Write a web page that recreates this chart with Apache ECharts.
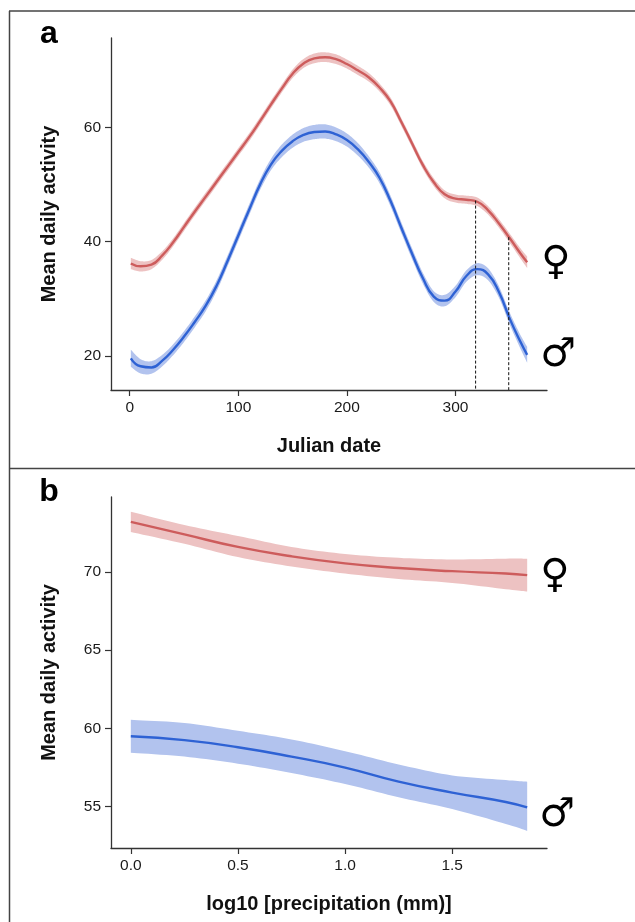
<!DOCTYPE html>
<html><head><meta charset="utf-8">
<script src="https://cdn.jsdelivr.net/npm/echarts@6/dist/echarts.min.js"></script>
<style>html,body{margin:0;padding:0;background:#fff}#c{width:635px;height:922px}</style>
</head><body><div id="c"></div>
<script>
// ---- Panel a: Julian date ----
const days      = [1,10,20,30,40,50,60,70,80,90,100,110,120,130,140,150,160,170,180,190,200,210,220,230,240,250,260,270,280,290,300,310,320,330,340,350,360,366];
const femaleA   = [36.2,35.7,36.0,37.6,39.9,42.6,45.3,47.9,50.5,53.1,55.7,58.3,61.1,64.0,66.8,69.4,71.2,72.1,72.3,71.95,71.1,70.0,68.8,67.0,64.6,61.0,57.2,53.4,50.4,48.3,47.55,47.35,47.0,45.5,43.2,40.6,37.9,36.4];
const femaleSeA = [1.0,0.9,0.8,0.75,0.7,0.7,0.7,0.7,0.7,0.7,0.7,0.7,0.7,0.7,0.7,0.75,0.8,0.85,0.85,0.85,0.8,0.8,0.75,0.7,0.7,0.7,0.7,0.7,0.7,0.7,0.7,0.72,0.75,0.75,0.75,0.8,0.9,1.0];
const maleA     = [19.6,18.2,18.0,19.2,21.1,23.4,26.0,28.8,32.3,36.6,41.1,45.6,50.0,53.5,55.9,57.6,58.7,59.2,59.3,58.8,57.8,56.2,54.0,51.2,47.2,42.5,37.9,33.6,30.4,29.7,31.3,34.0,35.2,34.3,31.2,26.5,22.4,20.2];
const maleSeA   = [1.5,1.25,1.1,1.0,0.95,0.95,0.95,0.95,0.95,0.95,0.95,0.95,0.95,1.0,1.1,1.15,1.2,1.25,1.25,1.2,1.15,1.1,1.0,0.95,0.95,0.95,0.95,0.95,0.95,1.0,1.0,1.0,1.05,1.05,1.0,1.05,1.2,1.4];
const dashDays  = [318.5, 349];
const dashTops  = [47.2, 40.8];
const xTicksA   = [0, 100, 200, 300];
const yTicksA   = [20, 40, 60];

// ---- Panel b: precipitation ----
const precip       = [0,0.25,0.5,0.75,1.0,1.25,1.5,1.75,1.85];
const femaleB      = [73.2,72.4,71.6,71.0,70.55,70.25,70.05,69.9,69.8];
const femaleUpperB = [73.85,73.0,72.3,71.6,71.15,70.9,70.8,70.85,70.85];
const femaleLowerB = [72.55,71.8,70.95,70.35,69.9,69.55,69.3,68.9,68.75];
const maleB        = [59.5,59.25,58.8,58.2,57.5,56.6,55.9,55.3,54.95];
const maleUpperB   = [60.55,60.35,59.85,59.3,58.55,57.7,57.0,56.7,56.6];
const maleLowerB   = [58.45,58.2,57.75,57.15,56.45,55.6,54.85,53.9,53.45];
const xTicksB      = [0, 0.5, 1.0, 1.5];
const yTicksB      = [55, 60, 65, 70];

const FONT = '"Liberation Sans", Arial, Helvetica, sans-serif';
const RED = '#CD5C5C', RED_BAND = '#EDC2C2';
const BLUE = '#2E62D4', BLUE_BAND = '#B2C3EE';
const AXIS = '#333';

const yMinA = 14.05, yMaxA = 75.66;
const yMinB = 52.36, yMaxB = 74.79;

function pairs(xs, ys) { return xs.map((x, i) => [x, ys[i]]); }
// smooth pixel path through the projected points (Catmull-Rom rendered as cubic Bezier)
function smoothPixels(p, steps) {
  const out = [];
  for (let i = 0; i < p.length - 1; i++) {
    const p0 = p[Math.max(i - 1, 0)], p1 = p[i], p2 = p[i + 1], p3 = p[Math.min(i + 2, p.length - 1)];
    const c1 = [p1[0] + (p2[0] - p0[0]) / 6, p1[1] + (p2[1] - p0[1]) / 6];
    const c2 = [p2[0] - (p3[0] - p1[0]) / 6, p2[1] - (p3[1] - p1[1]) / 6];
    for (let s = 0; s < steps; s++) {
      const t = s / steps, u = 1 - t;
      const a = u * u * u, b = 3 * u * u * t, c = 3 * u * t * t, d = t * t * t;
      out.push([a * p1[0] + b * c1[0] + c * c2[0] + d * p2[0], a * p1[1] + b * c1[1] + c * c2[1] + d * p2[1]]);
    }
  }
  out.push(p[p.length - 1]);
  return out;
}
function bandSeries(idx, xs, lo, hi, color) {
  return { type: 'custom', xAxisIndex: idx, yAxisIndex: idx, silent: true, z: 1,
    data: [[xs[0], lo[0]]],
    renderItem: (params, api) => {
      const top = smoothPixels(xs.map((x, i) => api.coord([x, hi[i]])), 10);
      const bot = smoothPixels(xs.map((x, i) => api.coord([x, lo[i]])), 10).reverse();
      return { type: 'polygon', shape: { points: top.concat(bot) }, style: { fill: color }, silent: true };
    } };
}
function lineSeries(idx, data, color, sym, offset) {
  return { type: 'line', xAxisIndex: idx, yAxisIndex: idx, data, smooth: true, symbol: 'none', silent: true,
    lineStyle: { width: 2.4, color }, z: 3,
    endLabel: { show: true, formatter: sym, fontSize: 40, fontFamily: '"DejaVu Sans"', color: '#000', offset } };
}
const tickStyle = { color: AXIS, width: 1.2 };
function xAxisCfg(idx, min, max, ticks, name, fmt) {
  return { gridIndex: idx, type: 'value', min, max, z: 10,
    axisLine: { show: true, onZero: false, lineStyle: { color: AXIS, width: 1.3 } },
    axisTick: { show: true, customValues: ticks, length: 6, lineStyle: tickStyle },
    axisLabel: { customValues: ticks, color: '#1a1a1a', fontSize: 15.5, fontFamily: FONT, margin: 10, formatter: fmt },
    splitLine: { show: false },
    name, nameLocation: 'middle', nameGap: 46,
    nameTextStyle: { fontWeight: 'bold', fontSize: 20, color: '#111', fontFamily: FONT } };
}
function yAxisCfg(idx, min, max, ticks, name) {
  return { gridIndex: idx, type: 'value', min, max, z: 10,
    axisLine: { show: true, onZero: false, lineStyle: { color: AXIS, width: 1.3 } },
    axisTick: { show: true, customValues: ticks, length: 6, lineStyle: tickStyle },
    axisLabel: { customValues: ticks, color: '#1a1a1a', fontSize: 15.5, fontFamily: FONT, margin: 10 },
    splitLine: { show: false },
    name, nameLocation: 'middle', nameGap: 52,
    nameTextStyle: { fontWeight: 'bold', fontSize: 20, color: '#111', fontFamily: FONT } };
}

const series = [
  bandSeries(0, days, femaleA.map((v, i) => v - femaleSeA[i]), femaleA.map((v, i) => v + femaleSeA[i]), RED_BAND),
  bandSeries(0, days, maleA.map((v, i) => v - maleSeA[i]), maleA.map((v, i) => v + maleSeA[i]), BLUE_BAND),
  lineSeries(0, pairs(days, femaleA), RED, '♀', [6, 1]),
  lineSeries(0, pairs(days, maleA), BLUE, '♂', [5, 1]),
  bandSeries(1, precip, femaleLowerB, femaleUpperB, RED_BAND),
  bandSeries(1, precip, maleLowerB, maleUpperB, BLUE_BAND),
  lineSeries(1, pairs(precip, femaleB), RED, '♀', [5, 2]),
  lineSeries(1, pairs(precip, maleB), BLUE, '♂', [4, 8])
];
dashDays.forEach((d, i) => {
  series.push({ type: 'line', xAxisIndex: 0, yAxisIndex: 0, symbol: 'none', silent: true, z: 4,
    data: [[d, dashTops[i]], [d, yMinA]], lineStyle: { color: '#111', width: 1, type: [3, 2] } });
});

const frame = { stroke: '#444', lineWidth: 1.5 };
const option = {
  animation: false,
  backgroundColor: '#fff',
  grid: [
    { left: 111, right: 88, top: 38, height: 352 },
    { left: 111, right: 88, top: 497, height: 351 }
  ],
  xAxis: [
    xAxisCfg(0, -17.25, 384.25, xTicksA, 'Julian date'),
    xAxisCfg(1, -0.0925, 1.9425, xTicksB, 'log10 [precipitation (mm)]', v => v.toFixed(1))
  ],
  yAxis: [
    yAxisCfg(0, yMinA, yMaxA, yTicksA, 'Mean daily activity'),
    yAxisCfg(1, yMinB, yMaxB, yTicksB, 'Mean daily activity')
  ],
  series,
  graphic: [
    { type: 'line', shape: { x1: 9.5, y1: 11, x2: 9.5, y2: 922 }, style: frame, silent: true },
    { type: 'line', shape: { x1: 9, y1: 11, x2: 635, y2: 11 }, style: frame, silent: true },
    { type: 'line', shape: { x1: 9, y1: 468.5, x2: 635, y2: 468.5 }, style: frame, silent: true },
    { type: 'text', x: 49, y: 34, style: { text: 'a', font: 'bold 32px ' + FONT, fill: '#000', align: 'center', verticalAlign: 'middle' }, silent: true },
    { type: 'text', x: 49, y: 492, style: { text: 'b', font: 'bold 32px ' + FONT, fill: '#000', align: 'center', verticalAlign: 'middle' }, silent: true }
  ]
};
const chart = echarts.init(document.getElementById('c'), null, { renderer: 'canvas' });
chart.setOption(option);
</script>
</body></html>
